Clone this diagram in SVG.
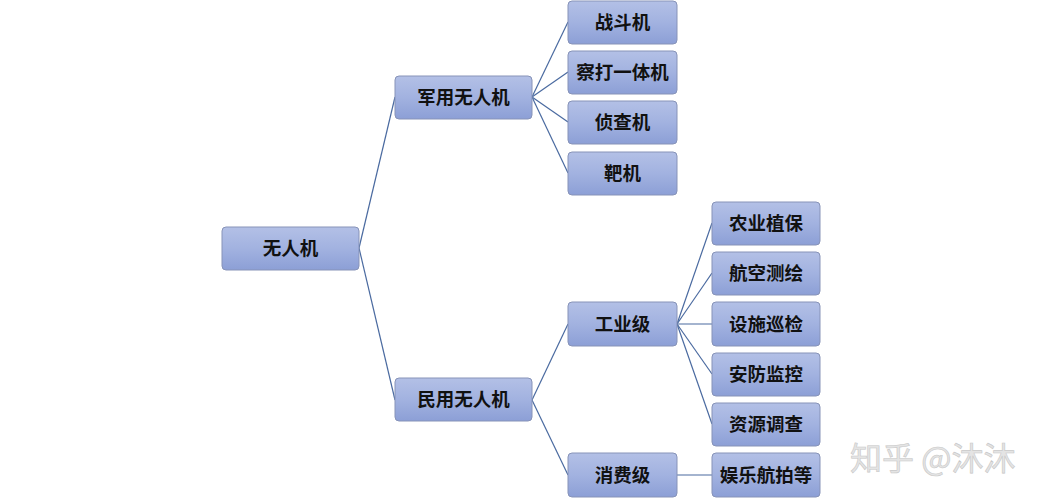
<svg xmlns="http://www.w3.org/2000/svg" width="1043" height="500" viewBox="0 0 1043 500">
<defs>
<linearGradient id="g" x1="0" y1="0" x2="0" y2="1">
<stop offset="0" stop-color="#b3c0e6"/>
<stop offset="0.5" stop-color="#a2b2e0"/>
<stop offset="1" stop-color="#8c9fd6"/>
</linearGradient>
<style>
.n rect{fill:url(#g);stroke:#8793b8;stroke-width:1}
.n text{font-family:"Noto Sans CJK SC","Noto Sans",sans-serif;font-size:18.5px;font-weight:bold;fill:#111;text-anchor:middle;dominant-baseline:central}
.c line{stroke:#4a6aa0;stroke-width:1.2}
.wm{font-family:"Noto Sans CJK SC","Noto Sans",sans-serif;font-size:32px;fill:#e4e4e4;stroke:#c8c8c8;stroke-width:0.6}
</style>
</defs>
<rect width="1043" height="500" fill="#fff"/>
<g class="c" id="connectors">
<line x1="359" y1="248" x2="395" y2="97"/>
<line x1="359" y1="248" x2="395" y2="400"/>
<line x1="532" y1="97" x2="568" y2="22"/>
<line x1="532" y1="97" x2="568" y2="72"/>
<line x1="532" y1="97" x2="568" y2="122"/>
<line x1="532" y1="97" x2="568" y2="173"/>
<line x1="532" y1="400" x2="568" y2="324"/>
<line x1="532" y1="400" x2="568" y2="475"/>
<line x1="677" y1="324" x2="712" y2="223"/>
<line x1="677" y1="324" x2="712" y2="273"/>
<line x1="677" y1="324" x2="712" y2="324"/>
<line x1="677" y1="324" x2="712" y2="374"/>
<line x1="677" y1="324" x2="712" y2="424"/>
<line x1="677" y1="475" x2="712" y2="475"/>
</g>
<g class="n" id="n-root"><rect x="222" y="227" width="137" height="43" rx="4"/><text x="290.5" y="247">无人机</text></g>
<g class="n" id="n-mil"><rect x="395" y="76" width="137" height="43" rx="4"/><text x="463.5" y="96">军用无人机</text></g>
<g class="n" id="n-civ"><rect x="395" y="378" width="137" height="43" rx="4"/><text x="463.5" y="398">民用无人机</text></g>
<g class="n" id="n-fighter"><rect x="568" y="1" width="109" height="43" rx="4"/><text x="622.5" y="21">战斗机</text></g>
<g class="n" id="n-strike"><rect x="568" y="51" width="109" height="43" rx="4"/><text x="622.5" y="71">察打一体机</text></g>
<g class="n" id="n-recon"><rect x="568" y="101" width="109" height="43" rx="4"/><text x="622.5" y="121">侦查机</text></g>
<g class="n" id="n-target"><rect x="568" y="152" width="109" height="43" rx="4"/><text x="622.5" y="172">靶机</text></g>
<g class="n" id="n-ind"><rect x="568" y="302" width="109" height="44" rx="4"/><text x="622.5" y="323">工业级</text></g>
<g class="n" id="n-con"><rect x="568" y="453" width="109" height="44" rx="4"/><text x="622.5" y="474">消费级</text></g>
<g class="n" id="n-agri"><rect x="712" y="202" width="108" height="43" rx="4"/><text x="766" y="222">农业植保</text></g>
<g class="n" id="n-survey"><rect x="712" y="252" width="108" height="43" rx="4"/><text x="766" y="272">航空测绘</text></g>
<g class="n" id="n-insp"><rect x="712" y="302" width="108" height="44" rx="4"/><text x="766" y="323">设施巡检</text></g>
<g class="n" id="n-sec"><rect x="712" y="353" width="108" height="43" rx="4"/><text x="766" y="373">安防监控</text></g>
<g class="n" id="n-res"><rect x="712" y="403" width="108" height="43" rx="4"/><text x="766" y="423">资源调查</text></g>
<g class="n" id="n-ent"><rect x="712" y="453" width="108" height="44" rx="4"/><text x="766" y="474">娱乐航拍等</text></g>
<text class="wm" x="850" y="470">知乎 @沐沐</text>
</svg>
